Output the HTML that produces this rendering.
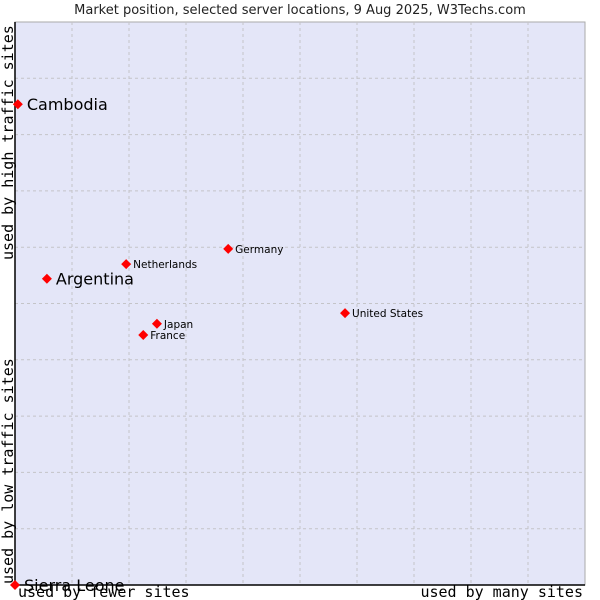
<!DOCTYPE html>
<html><head><meta charset="utf-8"><style>
body{margin:0;background:#fff;width:600px;height:600px;overflow:hidden}
svg{display:block}
</style></head><body>
<svg id="chart" width="600" height="600" xmlns="http://www.w3.org/2000/svg">
<rect x="0" y="0" width="600" height="600" fill="#fff"/>
<text x="300" y="14" text-anchor="middle" font-family="DejaVu Sans, sans-serif" font-size="13" fill="#222">Market position, selected server locations, 9 Aug 2025, W3Techs.com</text>
<rect x="15" y="22" width="570" height="563" fill="#e4e6f8" stroke="#aaa" stroke-width="1"/>
<g id="grid"></g>
<line x1="15" y1="22" x2="15" y2="585" stroke="#000" stroke-width="1.5"/>
<line x1="15" y1="585" x2="585" y2="585" stroke="#000" stroke-width="1.5"/>
<g id="points"></g>
<text x="18" y="597" font-family="DejaVu Sans Mono, monospace" font-size="15" fill="#000">used by fewer sites</text>
<text x="583" y="597" text-anchor="end" font-family="DejaVu Sans Mono, monospace" font-size="15" fill="#000">used by many sites</text>
<text transform="translate(13,260) rotate(-90)" font-family="DejaVu Sans Mono, monospace" font-size="15" fill="#000">used by high traffic sites</text>
<text transform="translate(13,584) rotate(-90)" font-family="DejaVu Sans Mono, monospace" font-size="15" fill="#000">used by low traffic sites</text>
</svg>
<script>
const names=["Cambodia","Argentina","Netherlands","Germany","United States","Japan","France","Sierra Leone"];
const xVals=[0.5,5.6,19.5,37.4,57.9,24.9,22.5,0];
const yVals=[85.4,54.4,57.0,59.7,48.3,46.4,44.4,0];
const bigLabel=[true,true,false,false,false,false,false,true];
const ns="http://www.w3.org/2000/svg";
const L=15,R=585,T=22,B=585;
function sx(v){return L+v/100*(R-L);}
function sy(v){return B-v/100*(B-T);}
const grid=document.getElementById('grid');
for(let i=1;i<10;i++){
  const v=i*10;
  const a=document.createElementNS(ns,'line');
  a.setAttribute('x1',sx(v));a.setAttribute('x2',sx(v));a.setAttribute('y1',T);a.setAttribute('y2',B);
  a.setAttribute('stroke','#c4c4c8');a.setAttribute('stroke-dasharray','3,3');
  
  
  grid.appendChild(a);
  const b=document.createElementNS(ns,'line');
  b.setAttribute('y1',sy(v));b.setAttribute('y2',sy(v));b.setAttribute('x1',L);b.setAttribute('x2',R);
  b.setAttribute('stroke','#c4c4c8');b.setAttribute('stroke-dasharray','3,3');
  
  
  grid.appendChild(b);
}
const pts=document.getElementById('points');
names.forEach((n,i)=>{
  const x=sx(xVals[i]),y=sy(yVals[i]);
  const slug=n.toLowerCase().replace(/ /g,'-');
  const d=document.createElementNS(ns,'path');
  d.setAttribute('d',`M${x-5},${y}L${x},${y-5}L${x+5},${y}L${x},${y+5}Z`);
  d.setAttribute('fill','#f00');
  
  
  pts.appendChild(d);
  const t=document.createElementNS(ns,'text');
  t.setAttribute('x',x+(bigLabel[i]?9:7));
  t.setAttribute('y',y+(bigLabel[i]?6:4));
  t.setAttribute('font-family','DejaVu Sans, sans-serif');
  t.setAttribute('font-size',bigLabel[i]?'16':'10.5');
  t.setAttribute('fill','#000');
  t.textContent=n;
  
  
  pts.appendChild(t);
});
</script>
</body></html>
